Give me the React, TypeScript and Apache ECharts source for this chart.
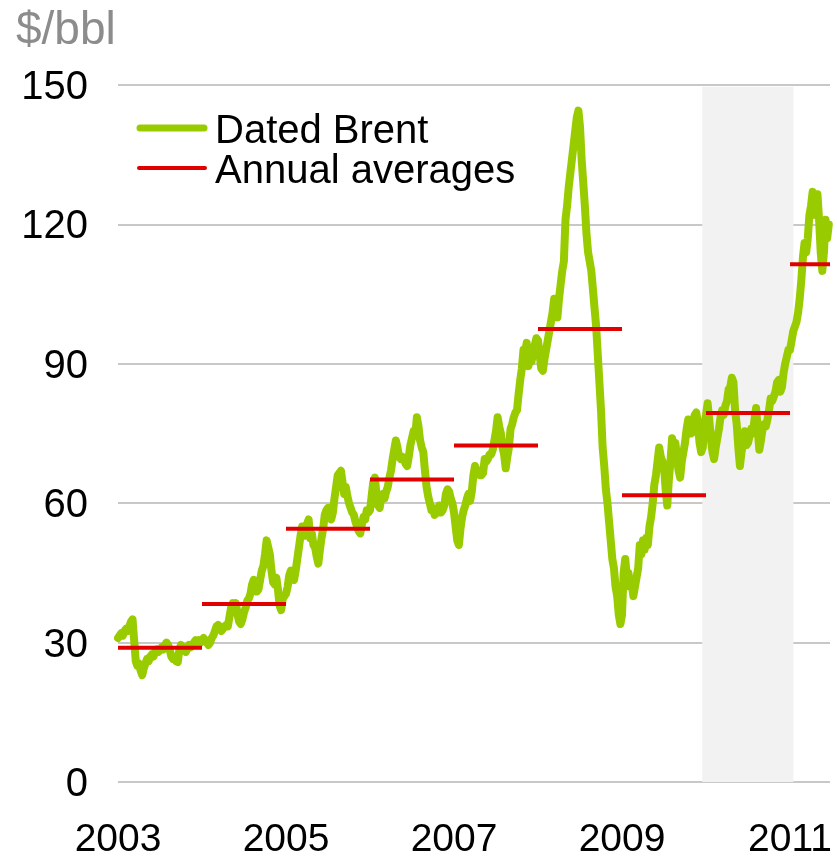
import React, { useEffect, useRef } from "react";
import * as echarts from "echarts";

const FONT = "'Liberation Sans', Arial, sans-serif";

const years = [2003, 2004, 2005, 2006, 2007, 2008, 2009, 2010, 2011];
const xTickYears = [2003, 2005, 2007, 2009, 2011];
const yTicks = [0, 30, 60, 90, 120, 150];

// Weekly Dated Brent readings, $/bbl (52 per full year, 2011 to mid-June)
const brent2003 = [31.0, 31.5, 32.0, 31.5, 32.5, 33.0, 32.5, 33.5, 34.5, 35.0, 30.5, 26.0, 25.0, 25.5, 24.0, 23.0, 24.5, 25.5, 26.5, 26.0, 27.0, 27.5, 27.0, 28.0, 28.5, 28.0, 28.5, 29.0, 28.5, 29.5, 30.0, 29.5, 28.5, 27.0, 26.5, 27.0, 26.0, 25.8, 28.5, 29.5, 29.0, 28.5, 28.0, 28.8, 29.5, 29.0, 29.5, 30.0, 30.5, 30.0, 30.5, 30.0];
const brent2004 = [30.5, 31.0, 30.5, 30.0, 29.5, 30.0, 31.0, 31.5, 32.5, 33.5, 33.8, 33.0, 32.5, 33.0, 33.5, 33.8, 33.5, 35.5, 37.5, 38.5, 37.0, 38.5, 36.0, 34.5, 34.0, 35.0, 36.5, 37.5, 39.0, 39.5, 40.5, 42.5, 43.5, 42.0, 41.0, 41.5, 43.5, 45.5, 46.5, 49.0, 52.0, 50.5, 49.0, 45.5, 43.0, 42.5, 44.0, 41.5, 38.0, 37.0, 39.5, 40.0];
const brent2005 = [40.5, 42.0, 44.5, 45.5, 44.0, 43.5, 45.5, 48.0, 50.5, 53.0, 55.0, 54.5, 53.0, 55.5, 56.5, 52.5, 53.5, 51.0, 50.5, 48.5, 47.0, 50.0, 52.5, 54.5, 57.5, 58.5, 59.0, 57.5, 56.5, 58.0, 61.0, 63.5, 66.0, 66.5, 67.0, 64.5, 62.0, 63.5, 61.5, 60.0, 59.0, 58.0, 57.5, 56.0, 55.0, 54.0, 53.5, 55.5, 57.0, 56.5, 58.5, 58.0];
const brent2006 = [58.5, 61.5, 64.5, 65.5, 62.0, 59.5, 59.0, 61.5, 62.0, 61.0, 62.5, 63.5, 65.5, 67.0, 69.5, 71.5, 73.5, 72.0, 70.0, 69.5, 70.0, 69.5, 68.5, 68.0, 70.0, 72.5, 74.0, 75.5, 74.5, 78.5, 76.5, 73.5, 72.0, 71.0, 67.0, 63.5, 61.5, 60.0, 58.5, 59.0, 57.5, 58.5, 58.0, 59.5, 58.0, 58.5, 59.5, 62.0, 63.0, 62.5, 61.0, 60.0];
const brent2007 = [58.0, 55.0, 52.0, 51.0, 54.5, 57.0, 58.5, 59.5, 61.0, 62.0, 60.5, 62.5, 66.0, 68.0, 67.0, 66.5, 66.0, 66.0, 66.5, 69.5, 69.0, 69.5, 70.5, 70.5, 71.5, 73.5, 75.5, 78.5, 76.5, 75.0, 72.0, 70.5, 67.5, 70.0, 72.0, 76.0, 77.0, 78.5, 79.5, 80.0, 83.5, 86.5, 89.0, 93.0, 92.5, 94.5, 89.5, 91.0, 90.5, 92.5, 94.0, 95.5];
const brent2008 = [95.0, 92.0, 89.0, 88.5, 91.0, 93.0, 95.0, 97.0, 99.0, 101.0, 104.0, 102.0, 100.0, 104.0, 107.0, 110.0, 112.0, 121.0, 124.0, 128.0, 131.0, 134.0, 137.0, 140.0, 143.0, 144.5, 141.0, 134.0, 129.0, 124.0, 118.0, 114.0, 112.0, 110.0, 106.0, 102.0, 98.0, 92.0, 86.0, 80.0, 72.0, 68.0, 63.0, 60.0, 56.0, 52.0, 48.0, 46.0, 42.0, 40.0, 36.0, 34.0];
const brent2009 = [36.0, 45.0, 48.0, 44.0, 45.0, 42.0, 43.0, 40.0, 42.0, 44.0, 46.0, 51.0, 49.0, 52.0, 50.0, 52.5, 51.0, 55.0, 57.0, 60.0, 64.0, 66.0, 69.0, 72.0, 70.0, 69.0, 68.0, 63.0, 59.5, 65.0, 69.0, 74.0, 72.0, 73.0, 70.0, 67.0, 65.5, 69.0, 71.0, 73.0, 76.0, 78.0, 77.0, 75.0, 77.5, 79.0, 79.5, 77.0, 73.0, 71.0, 72.0, 77.0];
const brent2010 = [79.0, 81.5, 78.0, 74.0, 71.0, 69.5, 72.0, 74.0, 76.0, 78.5, 80.0, 79.0, 81.0, 82.0, 84.5, 85.0, 87.0, 86.0, 80.0, 77.0, 72.0, 68.0, 71.0, 73.0, 75.5, 72.5, 73.0, 74.5, 76.0, 75.0, 78.0, 80.5, 76.0, 71.5, 73.5, 76.0, 77.0, 76.5, 78.0, 80.0, 82.5, 82.0, 83.0, 84.0, 86.0, 86.5, 84.0, 85.0, 88.0, 90.0, 91.5, 93.0];
const brent2011 = [93.0, 95.0, 97.0, 98.0, 99.0, 101.0, 104.0, 108.0, 113.0, 116.0, 114.0, 117.0, 122.0, 124.0, 127.0, 125.0, 122.0, 126.5, 121.0, 114.0, 110.0, 114.0, 121.0, 117.0, 120.0];
const brentByYear = [brent2003, brent2004, brent2005, brent2006, brent2007, brent2008, brent2009, brent2010, brent2011];

// Annual averages, $/bbl
const annualAverages = [28.9, 38.3, 54.5, 65.1, 72.4, 97.5, 61.7, 79.4, 111.4];

const X_MIN = 2003;
const X_MAX = 2011.476;
const SHADE_FROM = 2009.955;
const SHADE_TO = 2011.04;

const GREEN = "#99cc00";
const RED = "#e00000";

export default function App() {
  const ref = useRef<HTMLDivElement>(null);

  useEffect(() => {
    if (!ref.current) return;
    const chart = echarts.init(ref.current, null, { renderer: "svg" });

    const brentData: [number, number][] = [];
    brentByYear.forEach((arr, k) => {
      arr.forEach((v, i) => brentData.push([years[k] + i / 52, v]));
    });

    const avgSeries = annualAverages.map((avg, k) => ({
      type: "line",
      name: "Annual averages",
      data: [
        [years[k], avg],
        [Math.min(years[k] + 1, X_MAX), avg],
      ],
      symbol: "none",
      z: 5,
      lineStyle: { color: RED, width: 4, cap: "butt" },
      silent: true,
    }));

    chart.setOption({
      animation: false,
      title: {
        text: "$/bbl",
        left: 11,
        top: 0,
        textStyle: { fontFamily: FONT, fontSize: 46, fontWeight: "normal", color: "#8c8c8c" },
      },
      grid: { left: 118, right: 7, top: 85, bottom: 80 },
      xAxis: {
        type: "value",
        min: X_MIN,
        max: X_MAX,
        interval: 1,
        axisLine: { show: false },
        axisTick: { show: false },
        splitLine: { show: false },
        axisLabel: {
          fontFamily: FONT,
          fontSize: 39,
          color: "#000",
          margin: 36,
          showMaxLabel: false,
          formatter: (v: number) => {
            const r = Math.round(v);
            return Math.abs(v - r) < 1e-6 && xTickYears.includes(r) ? String(r) : "";
          },
        },
      },
      yAxis: {
        type: "value",
        min: yTicks[0],
        max: yTicks[yTicks.length - 1],
        interval: 30,
        axisLine: { show: false },
        axisTick: { show: false },
        splitLine: { lineStyle: { color: "#c8c8c8", width: 2 } },
        axisLabel: { fontFamily: FONT, fontSize: 40, color: "#000", margin: 30 },
      },
      graphic: [
        { type: "line", shape: { x1: 140, y1: 128, x2: 204, y2: 128 }, style: { stroke: GREEN, lineWidth: 7, lineCap: "round" } },
        { type: "line", shape: { x1: 139, y1: 168, x2: 205, y2: 168 }, style: { stroke: RED, lineWidth: 4, lineCap: "round" } },
        { type: "text", x: 215, y: 128.5, style: { text: "Dated Brent", font: `40px ${FONT}`, fill: "#000", textVerticalAlign: "middle" } },
        { type: "text", x: 215, y: 168.5, style: { text: "Annual averages", font: `40px ${FONT}`, fill: "#000", textVerticalAlign: "middle" } },
      ],
      series: [
        {
          type: "line",
          name: "shade",
          data: [],
          z: -1,
          silent: true,
          markArea: {
            silent: true,
            itemStyle: { color: "#f2f2f2", opacity: 1 },
            data: [[{ xAxis: SHADE_FROM, yAxis: 0 }, { xAxis: SHADE_TO, yAxis: 149.6 }]],
          },
        },
        {
          type: "line",
          name: "Dated Brent",
          data: brentData,
          symbol: "none",
          z: 3,
          silent: true,
          lineStyle: { color: GREEN, width: 8, join: "round", cap: "round" },
        },
        ...avgSeries,
      ],
    });

    return () => chart.dispose();
  }, []);

  return <div ref={ref} style={{ position: "fixed", left: 0, top: 0, width: 837, height: 862 }} />;
}
